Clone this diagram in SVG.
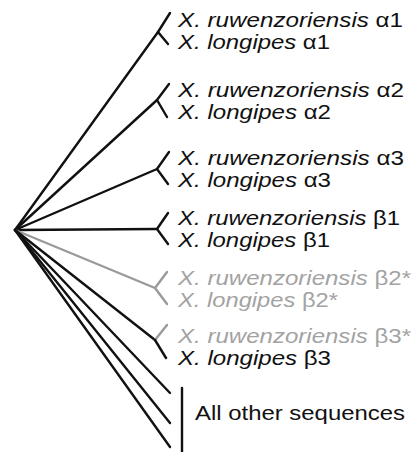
<svg xmlns="http://www.w3.org/2000/svg" width="412" height="452" viewBox="0 0 412 452">
  <style>
    .br { fill: none; stroke: #111; stroke-width: 2.4; stroke-linecap: round; stroke-linejoin: round; }
    .grey { stroke: #9a9a9a; }
    .lbl { font-family: "Liberation Sans", Arial, sans-serif; font-size: 21px; fill: #111; }
    .lbl.g { fill: #a3a3a3; }
    .sp { font-style: italic; }
  </style>
  <rect width="412" height="452" fill="#fff"/>

  <!-- branches from the root -->
  <g id="connectors">
    <path class="br" d="M15 230 L158 32"/>
    <path class="br" d="M15 230 L157 100"/>
    <path class="br" d="M15 230 L157 169"/>
    <path class="br" d="M15 230 L157 229"/>
    <path class="br grey" d="M15 230 L155 288"/>
    <path class="br" d="M15 230 L155 340"/>
    <path class="br" d="M15 230 L170 393"/>
    <path class="br" d="M15 230 L170 423"/>
    <path class="br" d="M15 230 L170 447"/>
  </g>

  <!-- alpha 1 pair -->
  <g id="pair-a1">
    <path class="br" d="M170 13 L158 32 L168 44"/>
    <text class="lbl" x="178" y="27" textLength="225" lengthAdjust="spacingAndGlyphs"><tspan class="sp">X. ruwenzoriensis</tspan> α1</text>
    <text class="lbl" x="178" y="49" textLength="152" lengthAdjust="spacingAndGlyphs"><tspan class="sp">X. longipes</tspan> α1</text>
  </g>

  <!-- alpha 2 pair -->
  <g id="pair-a2">
    <path class="br" d="M169 84 L157 100 L167 117"/>
    <text class="lbl" x="178" y="97" textLength="226" lengthAdjust="spacingAndGlyphs"><tspan class="sp">X. ruwenzoriensis</tspan> α2</text>
    <text class="lbl" x="178" y="119" textLength="153" lengthAdjust="spacingAndGlyphs"><tspan class="sp">X. longipes</tspan> α2</text>
  </g>

  <!-- alpha 3 pair -->
  <g id="pair-a3">
    <path class="br" d="M169 152 L157 169 L168 184"/>
    <text class="lbl" x="178" y="165" textLength="226" lengthAdjust="spacingAndGlyphs"><tspan class="sp">X. ruwenzoriensis</tspan> α3</text>
    <text class="lbl" x="178" y="187" textLength="153" lengthAdjust="spacingAndGlyphs"><tspan class="sp">X. longipes</tspan> α3</text>
  </g>

  <!-- beta 1 pair -->
  <g id="pair-b1">
    <path class="br" d="M168 213 L157 229 L168 244"/>
    <text class="lbl" x="178" y="225" textLength="222" lengthAdjust="spacingAndGlyphs"><tspan class="sp">X. ruwenzoriensis</tspan> β1</text>
    <text class="lbl" x="178" y="247" textLength="152" lengthAdjust="spacingAndGlyphs"><tspan class="sp">X. longipes</tspan> β1</text>
  </g>

  <!-- beta 2 pair (grey) -->
  <g id="pair-b2">
    <path class="br grey" d="M167 272 L155 288 L167 304"/>
    <text class="lbl g" x="178" y="285" textLength="233" lengthAdjust="spacingAndGlyphs"><tspan class="sp">X. ruwenzoriensis</tspan> β2*</text>
    <text class="lbl g" x="178" y="307" textLength="160" lengthAdjust="spacingAndGlyphs"><tspan class="sp">X. longipes</tspan> β2*</text>
  </g>

  <!-- beta 3 pair -->
  <g id="pair-b3">
    <path class="br grey" d="M167 325 L155 340"/>
    <path class="br" d="M155 340 L166 358"/>
    <text class="lbl g" x="178" y="343" textLength="233" lengthAdjust="spacingAndGlyphs"><tspan class="sp">X. ruwenzoriensis</tspan> β3*</text>
    <text class="lbl" x="178" y="365" textLength="153" lengthAdjust="spacingAndGlyphs"><tspan class="sp">X. longipes</tspan> β3</text>
  </g>

  <!-- remaining sequences -->
  <g id="others">
    <path class="br" d="M182 388 L182 452"/>
    <text class="lbl" x="195" y="420" textLength="210" lengthAdjust="spacingAndGlyphs">All other sequences</text>
  </g>
</svg>
